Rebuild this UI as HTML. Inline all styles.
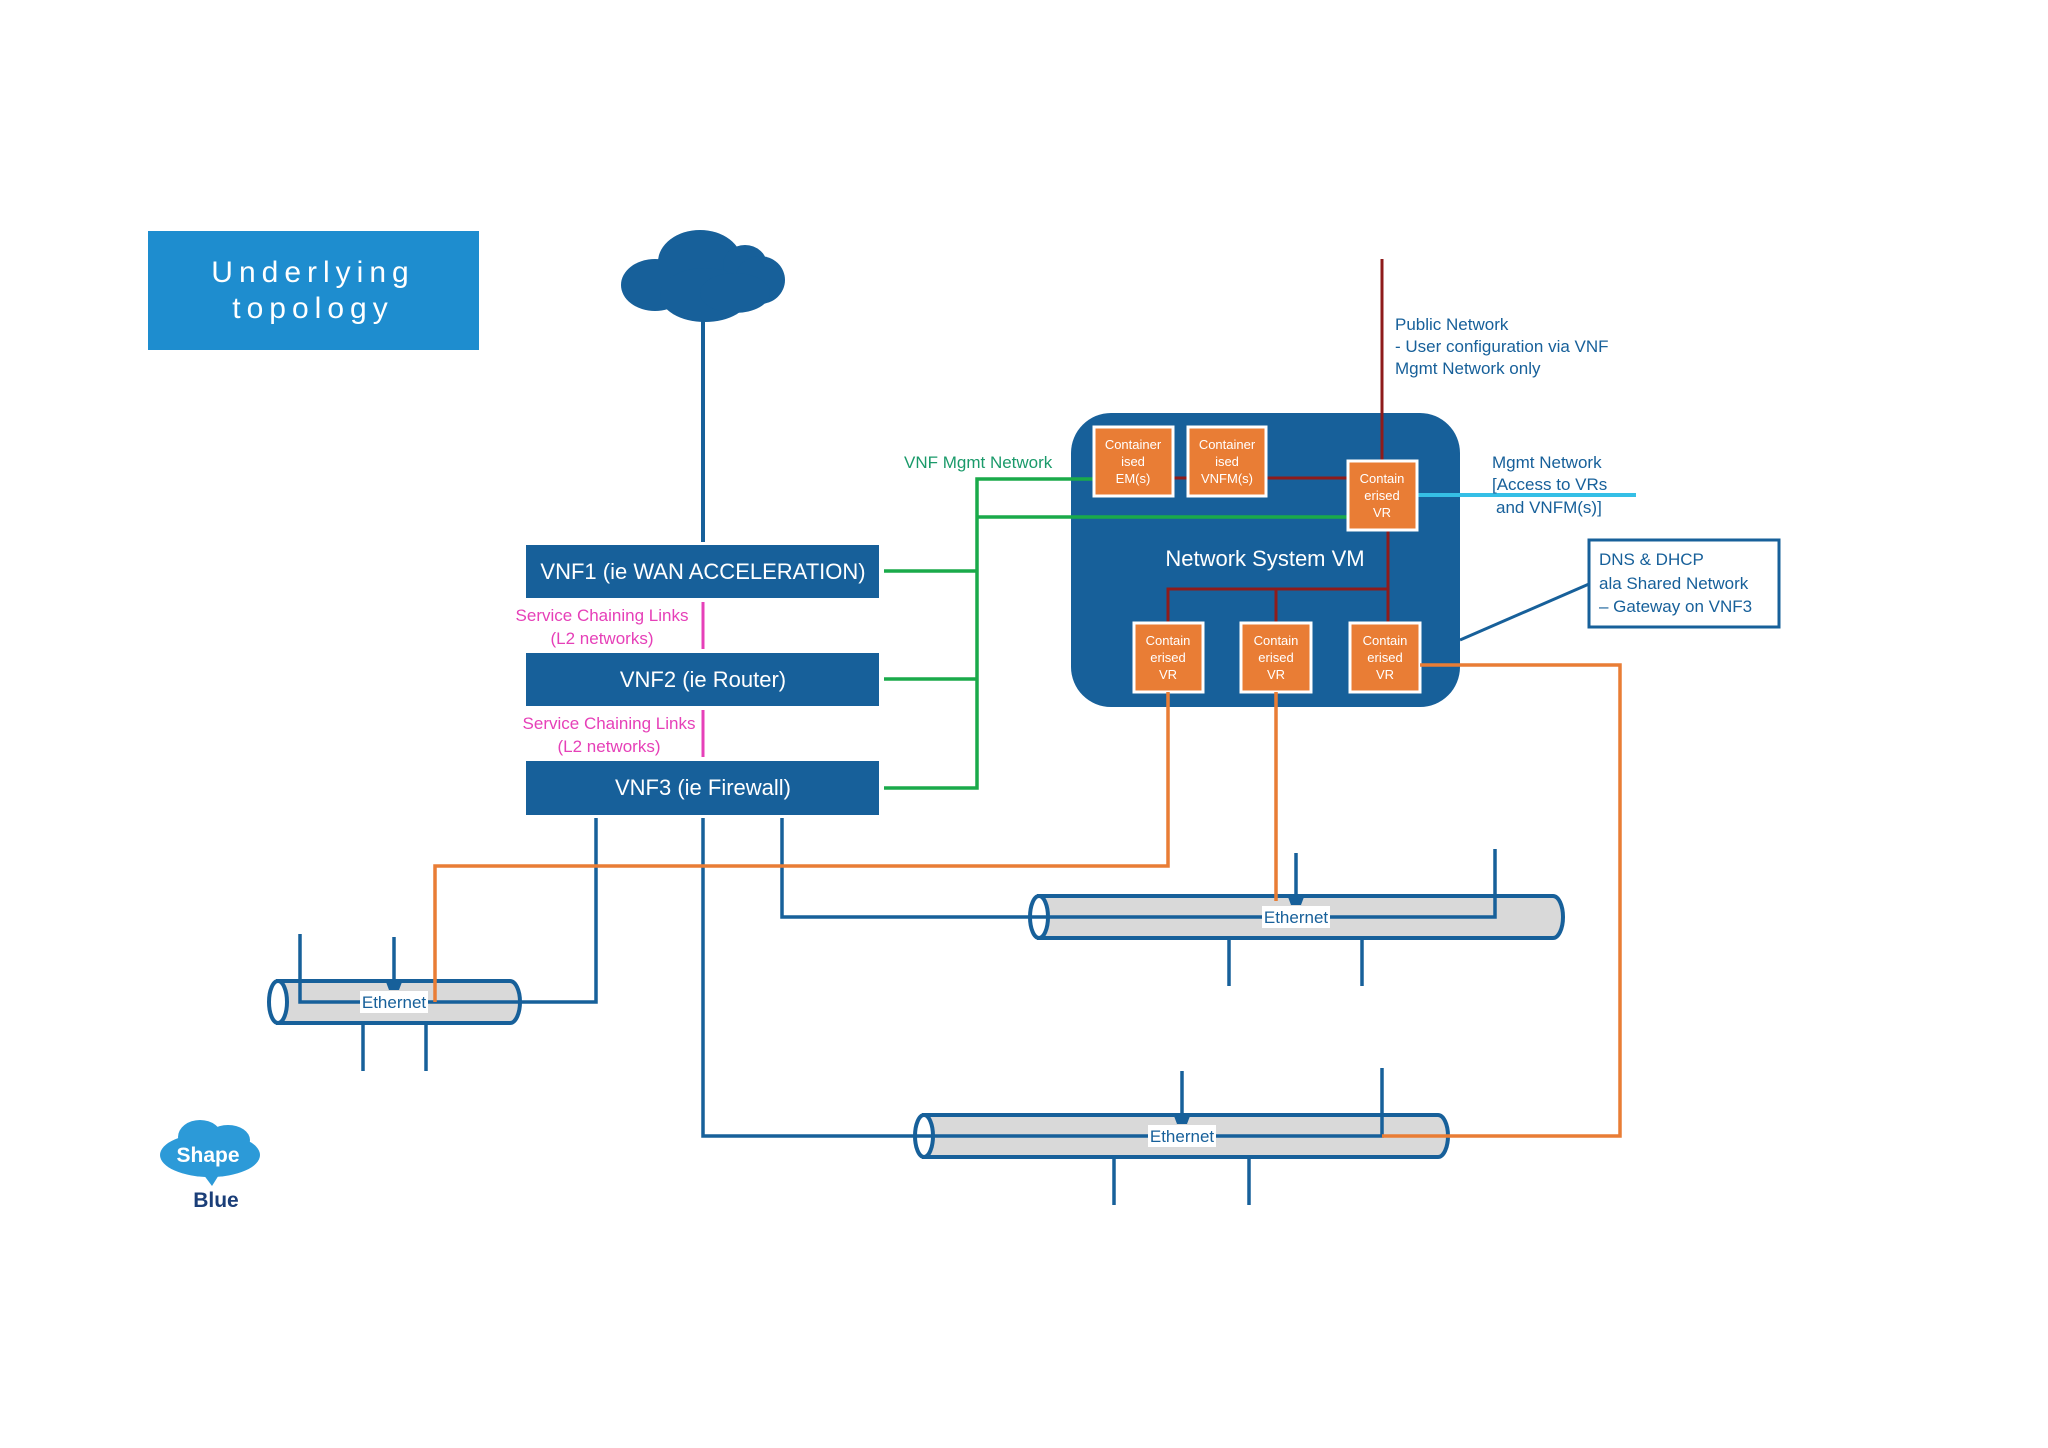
<!DOCTYPE html>
<html><head><meta charset="utf-8"><style>
html,body{margin:0;padding:0;background:#fff;}
svg{display:block;}
text{font-family:"Liberation Sans",sans-serif;}
</style></head><body>
<svg width="2048" height="1448" viewBox="0 0 2048 1448" xmlns="http://www.w3.org/2000/svg">
<rect width="2048" height="1448" fill="#ffffff"/>
<!-- title -->
<rect x="148" y="231" width="331" height="119" fill="#1e8dcf"/>
<text x="313" y="282" font-size="30" fill="#fff" text-anchor="middle" letter-spacing="6">Underlying</text>
<text x="313" y="318" font-size="30" fill="#fff" text-anchor="middle" letter-spacing="6">topology</text>
<!-- cloud -->
<g fill="#17609a">
<ellipse cx="655" cy="285" rx="34" ry="26"/>
<ellipse cx="700" cy="262" rx="42" ry="32"/>
<ellipse cx="745" cy="265" rx="22" ry="20"/>
<ellipse cx="760" cy="280" rx="25" ry="24"/>
<ellipse cx="705" cy="295" rx="45" ry="27"/>
<ellipse cx="735" cy="293" rx="35" ry="20"/>
</g>
<line x1="703" y1="310" x2="703" y2="542" stroke="#17609a" stroke-width="4"/>
<!-- VNF boxes -->
<g fill="#17609a">
<rect x="526" y="545" width="353" height="53"/>
<rect x="526" y="653" width="353" height="53"/>
<rect x="526" y="761" width="353" height="54"/>
</g>
<g fill="#fff" font-size="22" text-anchor="middle">
<text x="703" y="579">VNF1 (ie WAN ACCELERATION)</text>
<text x="703" y="687">VNF2 (ie Router)</text>
<text x="703" y="795">VNF3 (ie Firewall)</text>
</g>
<!-- pink -->
<g stroke="#e640b8" stroke-width="3"><line x1="703" y1="602" x2="703" y2="649"/><line x1="703" y1="710" x2="703" y2="757"/></g>
<g fill="#e640b8" font-size="17" text-anchor="middle">
<text x="602" y="621">Service Chaining Links</text><text x="602" y="644">(L2 networks)</text>
<text x="609" y="729">Service Chaining Links</text><text x="609" y="752">(L2 networks)</text>
</g>
<!-- NSVM -->
<rect x="1071" y="413" width="389" height="294" rx="40" fill="#17609a"/>
<text x="1265" y="566" font-size="22" fill="#fff" text-anchor="middle">Network System VM</text>
<!-- dark red -->
<g stroke="#8e1b1b" stroke-width="3" fill="none">
<line x1="1382" y1="259" x2="1382" y2="461"/>
<line x1="1173" y1="478" x2="1348" y2="478"/>
<polyline points="1388,530 1388,589 1168,589 1168,623"/>
<line x1="1276" y1="589" x2="1276" y2="623"/>
<line x1="1388" y1="589" x2="1388" y2="623"/>
</g>
<!-- green -->
<g stroke="#1aaa4a" stroke-width="3.5" fill="none">
<polyline points="884,571 977,571"/>
<polyline points="884,679 977,679"/>
<polyline points="884,788 977,788 977,479 1094,479"/>
<line x1="977" y1="517" x2="1348" y2="517"/>
</g>
<text x="904" y="468" font-size="17" fill="#1a9a6a">VNF Mgmt Network</text>
<!-- cyan -->
<line x1="1417" y1="495" x2="1636" y2="495" stroke="#35bfe6" stroke-width="4"/>
<!-- orange boxes -->
<g fill="#e97d35" stroke="#fff" stroke-width="3">
<rect x="1094" y="427" width="79" height="69"/>
<rect x="1188" y="427" width="78" height="69"/>
<rect x="1348" y="461" width="69" height="69"/>
<rect x="1134" y="623" width="69" height="69"/>
<rect x="1241" y="623" width="70" height="69"/>
<rect x="1350" y="623" width="70" height="69"/>
</g>
<g fill="#fff" font-size="13" text-anchor="middle">
<text x="1133" y="449">Container</text><text x="1133" y="466">ised</text><text x="1133" y="483">EM(s)</text>
<text x="1227" y="449">Container</text><text x="1227" y="466">ised</text><text x="1227" y="483">VNFM(s)</text>
<text x="1382" y="483">Contain</text><text x="1382" y="500">erised</text><text x="1382" y="517">VR</text>
<text x="1168" y="645">Contain</text><text x="1168" y="662">erised</text><text x="1168" y="679">VR</text>
<text x="1276" y="645">Contain</text><text x="1276" y="662">erised</text><text x="1276" y="679">VR</text>
<text x="1385" y="645">Contain</text><text x="1385" y="662">erised</text><text x="1385" y="679">VR</text>
</g>
<!-- right texts -->
<g fill="#17609a" font-size="17">
<text x="1395" y="330">Public Network</text><text x="1395" y="352">- User configuration via VNF</text><text x="1395" y="374">Mgmt Network only</text>
<text x="1492" y="468">Mgmt Network</text><text x="1492" y="490">[Access to VRs</text><text x="1496" y="513">and VNFM(s)]</text>
</g>
<rect x="1589" y="540" width="190" height="87" fill="#fff" stroke="#17609a" stroke-width="3"/>
<g fill="#17609a" font-size="17"><text x="1599" y="565">DNS &amp; DHCP</text><text x="1599" y="589">ala Shared Network</text><text x="1599" y="612">– Gateway on VNF3</text></g>
<line x1="1589" y1="584" x2="1460" y2="640" stroke="#17609a" stroke-width="3"/>
<!-- ethernet cylinders -->
<g stroke="#17609a" stroke-width="4" fill="#d9d9d9">
<path d="M278,981 H510 A10,21 0 0 1 510,1023 H278 Z"/>
<ellipse cx="278" cy="1002" rx="9" ry="21" fill="#fff"/>
<path d="M1039,896 H1553 A10,21 0 0 1 1553,938 H1039 Z"/>
<ellipse cx="1039" cy="917" rx="9" ry="21" fill="#fff"/>
<path d="M924,1115 H1438 A10,21 0 0 1 1438,1157 H924 Z"/>
<ellipse cx="924" cy="1136" rx="9" ry="21" fill="#fff"/>
</g>
<!-- blue connectors -->
<g stroke="#17609a" stroke-width="3.5" fill="none">
<polyline points="596,818 596,1002 300,1002 300,934"/>
<line x1="394" y1="937" x2="394" y2="985"/>
<line x1="363" y1="1024" x2="363" y2="1071"/><line x1="426" y1="1024" x2="426" y2="1071"/>
<polyline points="782,818 782,917 1495,917 1495,849"/>
<line x1="1296" y1="853" x2="1296" y2="900"/>
<line x1="1229" y1="938" x2="1229" y2="986"/><line x1="1362" y1="938" x2="1362" y2="986"/>
<polyline points="703,818 703,1136 1382,1136 1382,1068"/>
<line x1="1182" y1="1071" x2="1182" y2="1119"/>
<line x1="1114" y1="1157" x2="1114" y2="1205"/><line x1="1249" y1="1157" x2="1249" y2="1205"/>
</g>
<g fill="#17609a">
<path d="M386,982 h16 l-3,8 h-10z"/><path d="M1288,897 h16 l-3,8 h-10z"/><path d="M1174,1116 h16 l-3,8 h-10z"/>
</g>
<!-- orange connectors -->
<g stroke="#e97d35" stroke-width="3.5" fill="none">
<polyline points="1168,692 1168,866 435,866 435,1002"/>
<line x1="1276" y1="692" x2="1276" y2="901"/>
<polyline points="1420,665 1620,665 1620,1136 1382,1136"/>
</g>
<!-- ethernet labels -->
<g font-size="17" fill="#17609a" text-anchor="middle">
<rect x="360" y="991" width="68" height="22" fill="#fff"/><text x="394" y="1008">Ethernet</text>
<rect x="1262" y="906" width="68" height="22" fill="#fff"/><text x="1296" y="923">Ethernet</text>
<rect x="1148" y="1125" width="68" height="22" fill="#fff"/><text x="1182" y="1142">Ethernet</text>
</g>
<!-- logo -->
<g fill="#2c9ad8">
<ellipse cx="210" cy="1155" rx="50" ry="22"/>
<ellipse cx="200" cy="1137" rx="22" ry="17"/>
<ellipse cx="228" cy="1140" rx="22" ry="15"/>
<path d="M200,1170 L212,1186 L222,1170Z"/>
</g>
<text x="208" y="1162" font-size="21" font-weight="bold" fill="#fff" text-anchor="middle">Shape</text>
<text x="216" y="1207" font-size="21" font-weight="bold" fill="#1a3e78" text-anchor="middle">Blue</text>
</svg>
</body></html>
